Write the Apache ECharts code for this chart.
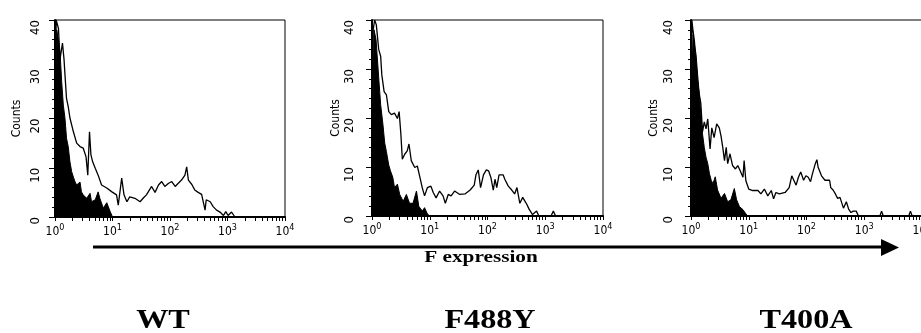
<!DOCTYPE html>
<html>
<head>
<meta charset="utf-8">
<script src="https://cdn.jsdelivr.net/npm/echarts@6/dist/echarts.min.js"></script>
<style>
  html, body { margin: 0; padding: 0; background: #fff; }
  #chart { width: 921px; height: 333px; }
</style>
</head>
<body>
<div id="chart"></div>
<script>
// histogram points: [decade (log10 of F intensity), counts]
const panelNames = ["WT", "F488Y", "T400A"];
const xTickLabels = [1, 10, 100, 1000, 10000];
const yTickLabels = [0, 10, 20, 30, 40];

const wtControl = [[0,0],[0.01,24.8],[0.03,38],[0.06,36],[0.09,33],[0.116,27.5],[0.145,22.7],[0.174,20],[0.2,16],[0.23,14.3],[0.26,11.2],[0.29,9.2],[0.32,8.1],[0.35,7.1],[0.377,6.5],[0.435,7.1],[0.46,5.1],[0.49,4.5],[0.55,3.8],[0.61,4.8],[0.635,3.1],[0.7,3.5],[0.75,5.1],[0.78,3.8],[0.84,1.8],[0.9,2.9],[0.96,1.1],[1.0,0]];
const wtStained = [[0,0],[0.02,40],[0.06,38.3],[0.087,32],[0.13,35.3],[0.157,32],[0.174,28.8],[0.2,24.1],[0.23,22.4],[0.26,20.1],[0.32,17.3],[0.377,15],[0.435,14.3],[0.49,14],[0.54,12.2],[0.57,8.5],[0.6,17.3],[0.625,12.6],[0.655,11.2],[0.7,9.9],[0.75,8.5],[0.81,6.5],[0.9,5.9],[0.99,5.1],[1.07,4.5],[1.1,2.4],[1.16,7.9],[1.2,4.5],[1.25,3.1],[1.3,4.1],[1.39,3.8],[1.48,3.1],[1.54,3.9],[1.59,4.5],[1.68,6.2],[1.74,5],[1.8,6.5],[1.855,7.2],[1.91,6.2],[1.97,6.8],[2.03,7.2],[2.09,6.2],[2.14,6.8],[2.2,7.5],[2.26,8.5],[2.29,10.2],[2.32,7.5],[2.38,6.6],[2.43,5.5],[2.49,5],[2.55,4.6],[2.61,1.4],[2.63,3.5],[2.7,3.1],[2.75,2.1],[2.81,1.4],[2.87,1],[2.93,0.3],[2.97,1.1],[3.01,0.3],[3.07,1],[3.13,0],[4,0]];

const f488yControl = [[0,0],[0.02,24.7],[0.035,38],[0.07,36],[0.12,27.6],[0.15,22.7],[0.19,18.6],[0.22,14.9],[0.25,13.1],[0.29,10.4],[0.32,9.2],[0.36,7.9],[0.39,5.8],[0.44,6.5],[0.48,4.4],[0.54,3],[0.595,4.4],[0.65,2.6],[0.71,2.6],[0.77,5.1],[0.81,2],[0.87,1],[0.91,1.7],[0.96,0.4],[1.0,0]];
const f488yStained = [[0,0],[0.02,38],[0.046,40],[0.075,39],[0.116,34],[0.15,32.6],[0.17,28.8],[0.21,25.4],[0.25,24.7],[0.29,21.3],[0.335,20.7],[0.39,21],[0.44,19.9],[0.47,21.3],[0.5,16.7],[0.525,11.6],[0.566,12.6],[0.61,13.3],[0.64,14.7],[0.68,11.3],[0.74,9.9],[0.785,10.2],[0.83,7.9],[0.87,5.8],[0.91,4.1],[0.96,5.8],[1.02,6.1],[1.06,4.8],[1.11,3.7],[1.17,5.1],[1.23,4.1],[1.27,2.6],[1.32,4.4],[1.37,4.1],[1.43,5.1],[1.52,4.4],[1.61,4.5],[1.7,5.3],[1.77,6.3],[1.8,8.4],[1.84,9.4],[1.88,5.8],[1.93,8.4],[1.98,9.4],[2.02,9.2],[2.06,7.8],[2.1,5.3],[2.13,7.5],[2.16,5.8],[2.2,8.4],[2.27,8.4],[2.3,7.5],[2.36,6.1],[2.42,5.3],[2.47,4.5],[2.51,5.8],[2.56,2.6],[2.61,3.8],[2.65,3],[2.68,2.4],[2.72,1.4],[2.78,0.3],[2.85,1],[2.89,0],[3.1,0],[3.14,1],[3.18,0],[4,0]];

const t400aControl = [[0,0],[0.01,24.7],[0.035,37],[0.06,35],[0.087,33],[0.115,28.8],[0.145,24.7],[0.17,20.8],[0.2,16.7],[0.23,14],[0.26,12],[0.29,10.7],[0.32,8.6],[0.35,7.3],[0.38,6.6],[0.42,8],[0.46,5.3],[0.52,3.6],[0.58,4.6],[0.635,2.9],[0.69,3.3],[0.75,5.6],[0.79,3.3],[0.84,1.9],[0.9,1.3],[0.94,0.6],[0.98,0]];
const t400aStained = [[0,0],[0.015,40],[0.03,38.3],[0.06,35.6],[0.087,31],[0.115,27],[0.145,24.7],[0.17,23],[0.2,17.2],[0.23,19.2],[0.26,17.8],[0.29,19.8],[0.33,13.7],[0.36,18],[0.4,16],[0.445,18.8],[0.49,18],[0.52,16.3],[0.55,14],[0.58,11.3],[0.61,14],[0.635,10.7],[0.675,12.7],[0.72,10.3],[0.77,9.6],[0.81,10.3],[0.85,9.3],[0.9,7.9],[0.92,11.3],[0.95,7.2],[1.0,5.5],[1.07,5.2],[1.16,5.2],[1.21,4.5],[1.27,5.5],[1.33,4.1],[1.39,5.2],[1.43,3.5],[1.47,4.8],[1.53,4.5],[1.63,4.8],[1.7,5.8],[1.745,8.2],[1.78,7.3],[1.82,6.3],[1.86,7.9],[1.9,9],[1.95,7.3],[1.99,8.2],[2.03,7.9],[2.07,7],[2.1,8.5],[2.15,10.6],[2.18,11.5],[2.2,10],[2.26,8.2],[2.32,7.3],[2.4,7.3],[2.42,5.8],[2.46,5.3],[2.5,4.5],[2.54,3.6],[2.58,3.8],[2.64,1.6],[2.69,2.9],[2.73,1.4],[2.77,0.7],[2.81,1],[2.86,1],[2.9,0],[3.27,0],[3.3,1],[3.33,0],[3.77,0],[3.8,1],[3.83,0],[4,0]];

const controls = [wtControl, f488yControl, t400aControl];
const stained = [wtStained, f488yStained, t400aStained];

// log minor tick positions 1..9 per decade
const xMinorTicks = [];
for (let d = 1; d < 10000; d *= 10) {
  for (let k = 1; k < 10; k++) xMinorTicks.push(k * d);
}
xMinorTicks.push(10000);

const toXY = pts => pts.map(p => [Math.pow(10, p[0]), p[1]]);

const chart = echarts.init(document.getElementById("chart"), null, { renderer: "canvas" });

const grids = [
  { left: 55, top: 20, width: 230, height: 197 },
  { left: 372, top: 20, width: 231, height: 196 },
  { left: 691, top: 20, width: 231, height: 196 }
];
const labelMargins = [19, 22, 22];
const nameGaps = [32, 30, 31];

const sansFont = '"Liberation Sans Narrow", "DejaVu Sans Condensed", "Liberation Sans", sans-serif';
const serifFont = '"Liberation Serif", "DejaVu Serif", serif';

const xAxes = grids.map((g, i) => ({
  type: "log",
  logBase: 10,
  gridIndex: i,
  min: 1,
  max: 10000,
  axisLine: { lineStyle: { color: "#000", width: 2 } },
  axisTick: { customValues: xMinorTicks, length: 4, lineStyle: { color: "#000", width: 1 } },
  splitLine: { show: false },
  axisLabel: {
    customValues: xTickLabels,
    margin: 6,
    color: "#000",
    fontFamily: sansFont,
    formatter: v => "{b|10}{s|" + Math.round(Math.log10(v)) + "}",
    rich: {
      b: { fontSize: 12, lineHeight: 18, fontFamily: sansFont, color: "#000" },
      s: { fontSize: 9, lineHeight: 10, verticalAlign: "top", fontFamily: sansFont, color: "#000" }
    }
  }
}));

const yAxes = grids.map((g, i) => ({
  type: "value",
  gridIndex: i,
  min: 0,
  max: 40,
  interval: 10,
  name: "Counts",
  nameLocation: "middle",
  nameRotate: 90,
  nameGap: nameGaps[i],
  nameTextStyle: { fontSize: 12, fontFamily: sansFont, color: "#000" },
  axisLine: { show: true, lineStyle: { color: "#000", width: 2 } },
  axisTick: { show: true, length: 6, lineStyle: { color: "#000" } },
  minorTick: { show: true, splitNumber: 5, length: 3, lineStyle: { color: "#000" } },
  splitLine: { show: false },
  axisLabel: {
    show: true,
    rotate: 89.99,
    margin: labelMargins[i],
    fontSize: 13,
    fontFamily: sansFont,
    color: "#000",
    formatter: v => String(v)
  }
}));

const series = [];
panelNames.forEach((name, i) => {
  series.push({
    name: name + " control",
    type: "line",
    xAxisIndex: i,
    yAxisIndex: i,
    data: toXY(controls[i]),
    symbol: "none",
    lineStyle: { color: "#000", width: 1 },
    areaStyle: { color: "#000", opacity: 1 },
    z: 2
  });
  series.push({
    name: name,
    type: "line",
    xAxisIndex: i,
    yAxisIndex: i,
    data: toXY(stained[i]),
    symbol: "none",
    lineStyle: { color: "#000", width: 1.3 },
    z: 3
  });
});

const panelCenters = [163, 490, 806];

const graphic = [
  {
    type: "line",
    shape: { x1: 93, y1: 247, x2: 884, y2: 247 },
    style: { stroke: "#000", lineWidth: 3 }
  },
  {
    type: "polygon",
    shape: { points: [[881, 239], [899, 247.5], [881, 256]] },
    style: { fill: "#000" }
  },
  {
    type: "text",
    x: 481,
    y: 258,
    scaleX: 1.25,
    style: { text: "F expression", font: "bold 17px " + serifFont, fill: "#000", textAlign: "center", textVerticalAlign: "middle" }
  }
].concat(panelNames.map((name, i) => ({
  type: "text",
  x: panelCenters[i],
  y: 321,
  scaleX: 1.15,
  style: { text: name, font: "bold 28px " + serifFont, fill: "#000", textAlign: "center", textVerticalAlign: "middle" }
})));

chart.setOption({
  animation: false,
  backgroundColor: "#fff",
  grid: grids.map(g => Object.assign({ show: true, borderColor: "#000", borderWidth: 1, backgroundColor: "transparent", outerBoundsMode: "none" }, g)),
  xAxis: xAxes,
  yAxis: yAxes,
  series: series,
  graphic: graphic
});
</script>
</body>
</html>
